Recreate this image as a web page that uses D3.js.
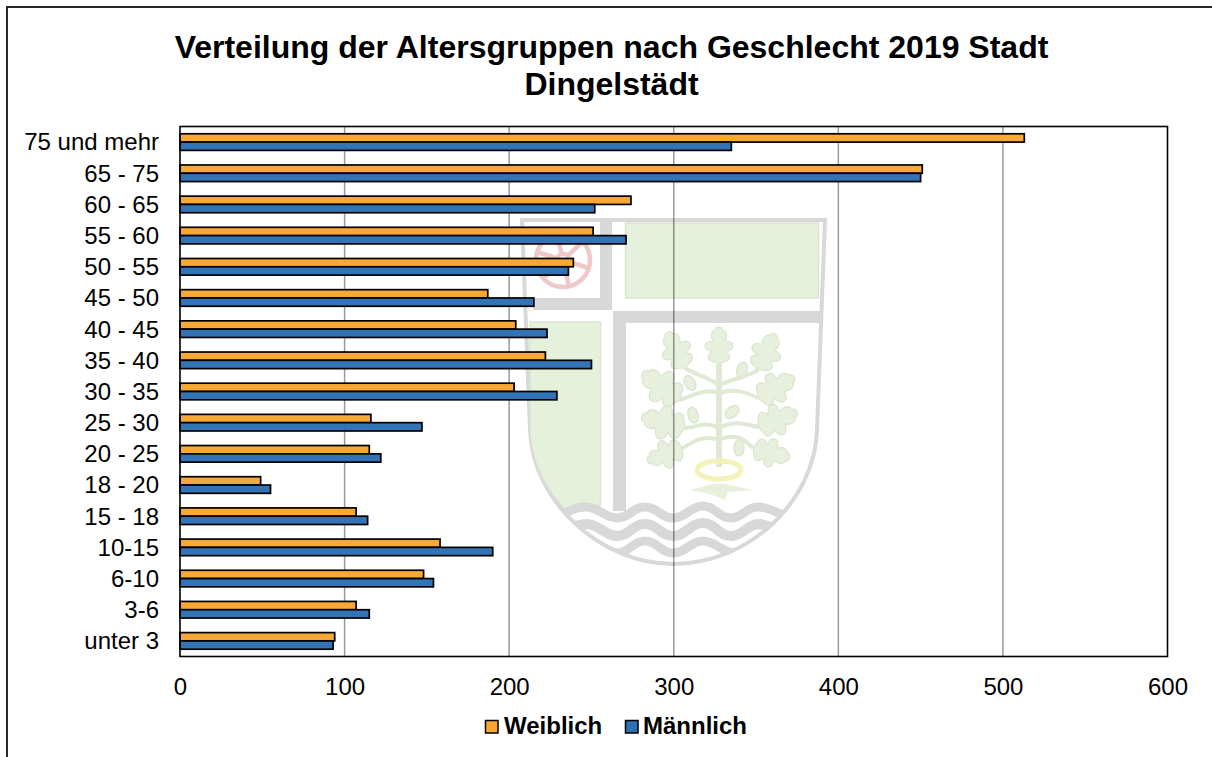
<!DOCTYPE html>
<html><head><meta charset="utf-8">
<script src="https://cdn.jsdelivr.net/npm/d3@7"></script>
<style>
html,body{margin:0;padding:0;background:#fff;overflow:hidden}
svg{display:block}
text{font-family:"Liberation Sans",Arial,sans-serif;fill:#000}
</style></head><body>
<svg id="c" width="1212" height="757"></svg>
<script>
const categories=["75 und mehr","65 - 75","60 - 65","55 - 60","50 - 55","45 - 50","40 - 45","35 - 40","30 - 35","25 - 30","20 - 25","18 - 20","15 - 18","10-15","6-10","3-6","unter 3"];
const weiblich=[513,451,274,251,239,187,204,222,203,116,115,49,107,158,148,107,94];
const maennlich=[335,450,252,271,236,215,223,250,229,147,122,55,114,190,154,115,93];
const xTicks=[0,100,200,300,400,500,600];
const titleLines=["Verteilung der Altersgruppen nach Geschlecht 2019 Stadt","Dingelstädt"];
const seriesNames=["Weiblich","Männlich"];
const colors=["#f7a631","#2f71b5"];

const svg=d3.select("#c");
const M={l:180,r:1167.5,t:126.5,b:656.5};
const x=d3.scaleLinear().domain([0,600]).range([M.l,M.r]);
const y=d3.scaleBand().domain(categories).range([M.t,M.b]).paddingInner(0).paddingOuter(0);

svg.append("rect").attr("x",7).attr("y",7).attr("width",1300).attr("height",800).attr("fill","#fff").attr("stroke","#111").attr("stroke-width",1.8);

// watermark coat of arms (decoration)
const wm=svg.append("g").attr("class","watermark");
const G="#d8d8d8",GR="#e6f1dc",GL="#dbe3d1";
const shield="M522,220 L825,220 L817,430 C815,500 750,564 673,564 C600,564 532,500 530,430 Z";
svg.append("clipPath").attr("id","sh").append("path").attr("d",shield);
wm.append("path").attr("d",shield).attr("fill","#fff").attr("stroke",G).attr("stroke-width",4);
wm.append("rect").attr("x",625.5).attr("y",223).attr("width",193).attr("height",75).attr("fill",GR).attr("stroke",GL).attr("stroke-width",1.5);
wm.append("path").attr("d","M530,322 L600.5,322 L600.5,505 L568,512 C545,490 531,460 530,430 Z").attr("fill",GR).attr("stroke",GL).attr("stroke-width",1.5);
// cross
wm.append("rect").attr("x",600).attr("y",222).attr("width",12).attr("height",76).attr("fill",G);
wm.append("rect").attr("x",533).attr("y",298).attr("width",79).attr("height",12).attr("fill",G);
wm.append("rect").attr("x",613).attr("y",311).attr("width",207).attr("height",12).attr("fill",G);
wm.append("rect").attr("x",613).attr("y",311).attr("width",13).attr("height",200).attr("fill",G);
// wheel
const wheel=wm.append("g").attr("transform","translate(563,260)").attr("fill","none").attr("stroke","#efc8c8");
wheel.append("circle").attr("r",27).attr("stroke-width",4.5);
wheel.append("circle").attr("r",6).attr("stroke-width",4.5);
d3.range(6).forEach(i=>{const a=i*Math.PI/3+.3;wheel.append("line").attr("x1",6*Math.cos(a)).attr("y1",6*Math.sin(a)).attr("x2",27*Math.cos(a)).attr("y2",27*Math.sin(a)).attr("stroke-width",4.5)});
// waves
const wavesG=wm.append("g").attr("clip-path","url(#sh)").attr("fill","none").attr("stroke",G);
wavesG.append("path").attr("stroke-width",9).attr("d","M560,516 C570,510 578,506 587,507 C600,508 605,518 617,518 C630,518 632,507 645,507 C658,507 660,518 673,518 C686,518 690,506 703,506 C716,506 718,518 731,518 C744,518 746,506 760,507 C770,508 780,514 790,518");
wavesG.append("path").attr("stroke-width",10).attr("d","M570,530 C575,526 580,524 587,524 C600,525 605,536 617,536 C630,536 632,524 645,524 C658,524 660,536 673,536 C686,536 690,523 703,523 C716,523 718,536 731,536 C744,536 746,524 760,524 C768,525 775,530 785,532");
wavesG.append("path").attr("stroke-width",9).attr("d","M590,543 C600,548 608,553 617,553 C630,553 632,541 645,541 C658,541 660,553 673,553 C686,553 690,541 703,541 C716,541 722,553 735,553 C745,552 755,545 765,540");
// tree
const tree=wm.append("g").attr("fill","#e6f0dd").attr("stroke","#dbe5cf").attr("stroke-width",1.5);
const leafPath="M0,0 C-6,-4 -12,-2 -14,-8 C-16,-13 -10,-14 -9,-17 C-14,-17 -20,-20 -18,-26 C-16,-31 -10,-29 -8,-31 C-12,-36 -10,-44 -5,-44 C-5,-50 5,-50 5,-44 C10,-44 12,-36 8,-31 C10,-29 16,-31 18,-26 C20,-20 14,-17 9,-17 C10,-14 16,-13 14,-8 C12,-2 6,-4 0,0Z";
const branches=["M719,467 L719,364","M719,385 C705,375 695,375 685,368","M719,385 C735,378 745,378 758,370","M719,393 C705,388 695,395 680,400","M719,393 C735,388 745,392 758,398","M719,428 C705,420 695,428 685,428","M719,428 C735,420 745,424 758,427","M719,440 C705,435 695,440 683,448","M719,440 C735,432 745,440 753,448"];
const leaves=[[719,364,0,.76],[685,368,-26,.82],[758,370,25,.82],[680,400,-54,.95],[758,398,60,.86],[685,428,-75,.92],[758,427,69,.86],[683,448,-110,.78],[753,448,105,.78]];
leaves.forEach(l=>tree.append("path").attr("d",leafPath).attr("transform",`translate(${l[0]},${l[1]}) rotate(${l[2]}) scale(${l[3]})`));
branches.forEach(d=>wm.append("path").attr("d",d).attr("fill","none").attr("stroke","#dfe9d3").attr("stroke-width",d.includes("L")?6:4));
[[690,383,-30],[742,370,15],[693,415,-15],[732,412,50],[739,448,0]].forEach(a=>tree.append("ellipse").attr("rx",5).attr("ry",8).attr("transform",`translate(${a[0]},${a[1]}) rotate(${a[2]})`));
wm.append("ellipse").attr("cx",719).attr("cy",470).attr("rx",22).attr("ry",9).attr("fill","none").attr("stroke","#f6f1b9").attr("stroke-width",5);
wm.append("path").attr("d","M690,490 L712,484 L726,484 L752,490 L728,492 L725,500 L710,494 Z").attr("fill","#e6f0dd");

// gridlines
svg.append("g").selectAll("line").data(xTicks.slice(1,-1)).join("line")
 .attr("x1",d=>x(d)).attr("x2",d=>x(d)).attr("y1",M.t).attr("y2",M.b)
 .attr("stroke","#000").attr("stroke-opacity",.4).attr("stroke-width",1.5);

// bars
const bh=8.3;
[weiblich,maennlich].forEach((vals,si)=>{
 svg.append("g").selectAll("rect").data(vals).join("rect")
  .attr("x",x(0))
  .attr("y",(d,i)=>y(categories[i])+y.bandwidth()/2-bh+si*bh)
  .attr("width",d=>x(d)-x(0)).attr("height",bh)
  .attr("fill",colors[si]).attr("fill-opacity",.98).attr("stroke","#000").attr("stroke-width",1.7);
});

// frame
svg.append("rect").attr("x",M.l).attr("y",M.t).attr("width",M.r-M.l).attr("height",M.b-M.t).attr("fill","none").attr("stroke","#000").attr("stroke-width",1.6);

// axes
const FF='"Liberation Sans",Arial,sans-serif';
const gx=svg.append("g").attr("transform",`translate(0,${M.b})`).call(d3.axisBottom(x).tickValues(xTicks).tickSize(0).tickPadding(0));
gx.select(".domain").remove();
gx.selectAll("text").attr("y",30).attr("dy",".35em").attr("font-size",24).attr("font-family",FF);
const gy=svg.append("g").attr("transform",`translate(${M.l},0)`).call(d3.axisLeft(y).tickSize(0).tickPadding(0));
gy.select(".domain").remove();
gy.selectAll("text").attr("x",-21).attr("dy",".35em").attr("font-size",24).attr("font-family",FF);

// title
svg.selectAll(".t").data(titleLines).join("text").attr("class","t")
 .attr("x",611.5).attr("y",(d,i)=>58+i*36.5).attr("text-anchor","middle")
 .attr("font-size",32).attr("font-weight","bold").text(d=>d);

// legend
const lx=[485.5,625.5], tx=[504,643];
seriesNames.forEach((n,i)=>{
 svg.append("rect").attr("x",lx[i]).attr("y",720.5).attr("width",12.5).attr("height",12.5).attr("fill",colors[i]).attr("stroke","#000").attr("stroke-width",1.5);
 svg.append("text").attr("x",tx[i]).attr("y",733.5).attr("font-size",24).attr("font-weight","bold").text(n);
});
</script></body></html>
